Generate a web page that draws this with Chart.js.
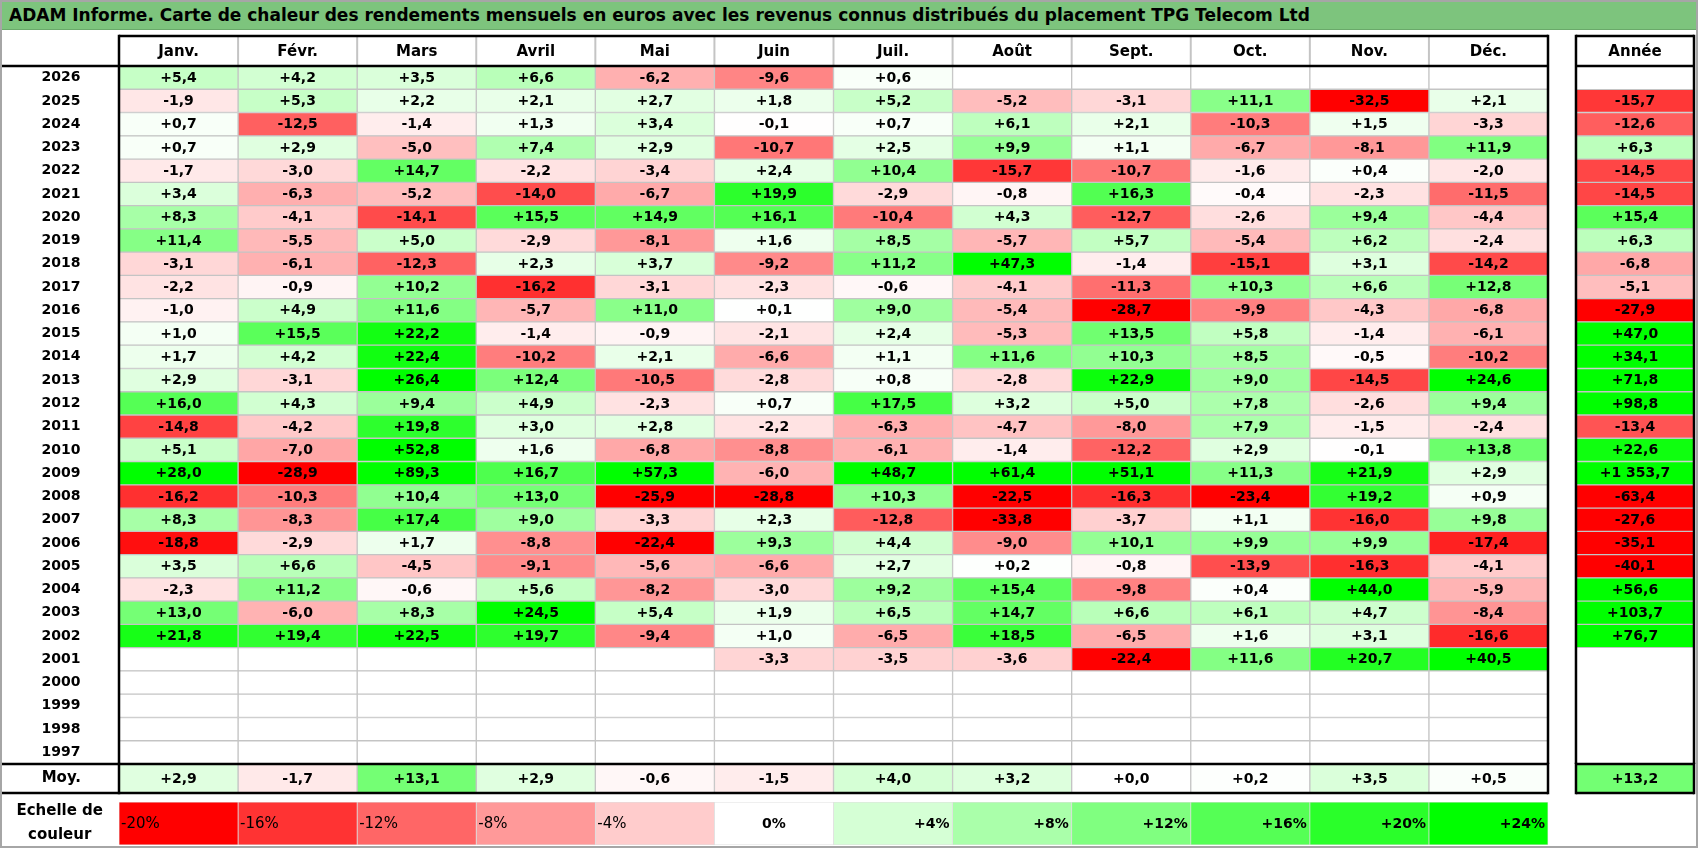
<!DOCTYPE html>
<html lang="fr">
<head>
<meta charset="utf-8">
<title>ADAM Informe - TPG Telecom Ltd</title>
<script src="https://cdn.jsdelivr.net/npm/chart.js@4.4.1/dist/chart.umd.min.js"></script>
<style>
  html, body { margin: 0; padding: 0; background: #fff; }
  #page { position: relative; width: 1698px; height: 848px; overflow: hidden; font-family: "DejaVu Sans", sans-serif; }
  #title { position: absolute; left: 0; top: 0; width: 1698px; height: 30px; box-sizing: border-box;
           background: #7dc47d; border-top: 1px solid #6aa96a; border-bottom: 1px solid #6aa96a;
           font-weight: bold; font-size: 17px; line-height: 29px; padding-left: 9px; color: #000; white-space: nowrap; }
  canvas { position: absolute; left: 0; }
  #frame { position: absolute; left: 0; top: 0; width: 1698px; height: 848px; box-sizing: border-box;
           border: 2px solid #a6a6a6; pointer-events: none; }
</style>
</head>
<body>
<div id="page">
  <div id="title">ADAM Informe. Carte de chaleur des rendements mensuels en euros avec les revenus connus distribués du placement TPG Telecom Ltd</div>
  <canvas id="gridChart" width="1698" height="730" style="top:34px"></canvas>
  <canvas id="avgChart" width="1698" height="33" style="top:762px"></canvas>
  <canvas id="scaleChart" width="1698" height="48" style="top:800px"></canvas>
  <div id="frame"></div>
</div>
<script>
// --- DATA ---
const years = [2026, 2025, 2024, 2023, 2022, 2021, 2020, 2019, 2018, 2017, 2016, 2015, 2014, 2013, 2012,
               2011, 2010, 2009, 2008, 2007, 2006, 2005, 2004, 2003, 2002, 2001, 2000, 1999, 1998, 1997];
const months = ['Janv.', 'Févr.', 'Mars', 'Avril', 'Mai', 'Juin', 'Juil.', 'Août', 'Sept.', 'Oct.', 'Nov.', 'Déc.'];
const yearLabel = 'Année';

const jan = [5.4, -1.9, 0.7, 0.7, -1.7, 3.4, 8.3, 11.4, -3.1, -2.2, -1.0, 1.0, 1.7, 2.9, 16.0,
             -14.8, 5.1, 28.0, -16.2, 8.3, -18.8, 3.5, -2.3, 13.0, 21.8, null, null, null, null, null];
const feb = [4.2, 5.3, -12.5, 2.9, -3.0, -6.3, -4.1, -5.5, -6.1, -0.9, 4.9, 15.5, 4.2, -3.1, 4.3,
             -4.2, -7.0, -28.9, -10.3, -8.3, -2.9, 6.6, 11.2, -6.0, 19.4, null, null, null, null, null];
const mar = [3.5, 2.2, -1.4, -5.0, 14.7, -5.2, -14.1, 5.0, -12.3, 10.2, 11.6, 22.2, 22.4, 26.4, 9.4,
             19.8, 52.8, 89.3, 10.4, 17.4, 1.7, -4.5, -0.6, 8.3, 22.5, null, null, null, null, null];
const apr = [6.6, 2.1, 1.3, 7.4, -2.2, -14.0, 15.5, -2.9, 2.3, -16.2, -5.7, -1.4, -10.2, 12.4, 4.9,
             3.0, 1.6, 16.7, 13.0, 9.0, -8.8, -9.1, 5.6, 24.5, 19.7, null, null, null, null, null];
const may = [-6.2, 2.7, 3.4, 2.9, -3.4, -6.7, 14.9, -8.1, 3.7, -3.1, 11.0, -0.9, 2.1, -10.5, -2.3,
             2.8, -6.8, 57.3, -25.9, -3.3, -22.4, -5.6, -8.2, 5.4, -9.4, null, null, null, null, null];
const jun = [-9.6, 1.8, -0.1, -10.7, 2.4, 19.9, 16.1, 1.6, -9.2, -2.3, 0.1, -2.1, -6.6, -2.8, 0.7,
             -2.2, -8.8, -6.0, -28.8, 2.3, 9.3, -6.6, -3.0, 1.9, 1.0, -3.3, null, null, null, null];
const jul = [0.6, 5.2, 0.7, 2.5, 10.4, -2.9, -10.4, 8.5, 11.2, -0.6, 9.0, 2.4, 1.1, 0.8, 17.5,
             -6.3, -6.1, 48.7, 10.3, -12.8, 4.4, 2.7, 9.2, 6.5, -6.5, -3.5, null, null, null, null];
const aug = [null, -5.2, 6.1, 9.9, -15.7, -0.8, 4.3, -5.7, 47.3, -4.1, -5.4, -5.3, 11.6, -2.8, 3.2,
             -4.7, -1.4, 61.4, -22.5, -33.8, -9.0, 0.2, 15.4, 14.7, 18.5, -3.6, null, null, null, null];
const sep = [null, -3.1, 2.1, 1.1, -10.7, 16.3, -12.7, 5.7, -1.4, -11.3, -28.7, 13.5, 10.3, 22.9, 5.0,
             -8.0, -12.2, 51.1, -16.3, -3.7, 10.1, -0.8, -9.8, 6.6, -6.5, -22.4, null, null, null, null];
const oct = [null, 11.1, -10.3, -6.7, -1.6, -0.4, -2.6, -5.4, -15.1, 10.3, -9.9, 5.8, 8.5, 9.0, 7.8,
             7.9, 2.9, 11.3, -23.4, 1.1, 9.9, -13.9, 0.4, 6.1, 1.6, 11.6, null, null, null, null];
const nov = [null, -32.5, 1.5, -8.1, 0.4, -2.3, 9.4, 6.2, 3.1, 6.6, -4.3, -1.4, -0.5, -14.5, -2.6,
             -1.5, -0.1, 21.9, 19.2, -16.0, 9.9, -16.3, 44.0, 4.7, 3.1, 20.7, null, null, null, null];
const dec = [null, 2.1, -3.3, 11.9, -2.0, -11.5, -4.4, -2.4, -14.2, 12.8, -6.8, -6.1, -10.2, 24.6, 9.4,
             -2.4, 13.8, 2.9, 0.9, 9.8, -17.4, -4.1, -5.9, -8.4, -16.6, 40.5, null, null, null, null];
const yearTotals = [null, -15.7, -12.6, 6.3, -14.5, -14.5, 15.4, 6.3, -6.8, -5.1, -27.9, 47.0, 34.1, 71.8, 98.8,
                    -13.4, 22.6, 1353.7, -63.4, -27.6, -35.1, -40.1, 56.6, 103.7, 76.7, null, null, null, null, null];

const monthAverages = [2.9, -1.7, 13.1, 2.9, -0.6, -1.5, 4.0, 3.2, 0.0, 0.2, 3.5, 0.5];
const totalAverage = 13.2;
const scaleSteps = [-20, -16, -12, -8, -4, 0, 4, 8, 12, 16, 20, 24];

// --- SETTINGS ---
const FONT = '"DejaVu Sans", sans-serif';
const monthColumns = [jan, feb, mar, apr, may, jun, jul, aug, sep, oct, nov, dec];
const ANNEE_START = 12.235;
const ANNEE_END = 13.226;
const X_MAX = 13.226;
const THICK = 2.5;

function heatColor(v) {
    if (v === null) return '#ffffff';
    if (v >= 0) {
        const c = Math.round(255 * (1 - Math.min(v / 24, 1)));
        return `rgb(${c},255,${c})`;
    }
    const c = Math.round(255 * (1 - Math.min(-v / 20, 1)));
    return `rgb(255,${c},${c})`;
}

function formatValue(v) {
    const sign = v < 0 ? '-' : '+';
    const [whole, dec] = Math.abs(v).toFixed(1).split('.');
    return sign + whole.replace(/\B(?=(\d{3})+(?!\d))/g, ' ') + ',' + dec;
}

function columnDataset(values, start, end, keepEmpty) {
    return {
        data: values.map(v => (v === null && !keepEmpty) ? null : [start, end]),
        values: values,
        backgroundColor: values.map(heatColor),
        borderColor: '#c4c4c4',
        borderWidth: 1,
        borderSkipped: false,
        grouped: false,
        categoryPercentage: 1,
        barPercentage: 1
    };
}

// --- PLUGINS ---
const cellLabels = {
    id: 'cellLabels',
    afterDatasetsDraw(chart) {
        const ctx = chart.ctx;
        ctx.save();
        ctx.fillStyle = '#000';
        ctx.textBaseline = 'middle';
        chart.data.datasets.forEach((ds, di) => {
            chart.getDatasetMeta(di).data.forEach((bar, i) => {
                const v = ds.values[i];
                if (v === null || v === undefined) return;
                const { x, base, y } = bar.getProps(['x', 'base', 'y'], true);
                if (ds.scaleLabel) {
                    const text = (v > 0 ? '+' : '') + v + '%';
                    ctx.font = (v < 0 ? 'normal 15px ' : 'bold 14px ') + FONT;
                    if (v < 0) { ctx.textAlign = 'left'; ctx.fillText(text, base + 2, y + 1); }
                    else if (v === 0) { ctx.textAlign = 'center'; ctx.fillText(text, (x + base) / 2, y + 1); }
                    else { ctx.textAlign = 'right'; ctx.fillText(text, x - 3, y + 1); }
                } else {
                    ctx.font = 'bold 14px ' + FONT;
                    ctx.textAlign = 'center';
                    ctx.fillText(formatValue(v), (x + base) / 2, y + 0.5);
                }
            });
        });
        ctx.restore();
    }
};

const tableFrame = {
    id: 'tableFrame',
    afterDraw(chart, args, opts) {
        if (!opts.enabled) return;
        const { ctx, chartArea, scales: { x } } = chart;
        const left = x.getPixelForValue(0);
        const right = x.getPixelForValue(12);
        const aL = x.getPixelForValue(ANNEE_START);
        const aR = x.getPixelForValue(ANNEE_END);
        const top = opts.header ? x.top + 2 : chartArea.top;
        const bottom = chartArea.bottom;

        ctx.save();
        if (opts.header) {
            ctx.strokeStyle = '#c4c4c4';
            ctx.lineWidth = 2;
            for (let m = 1; m < 12; m++) {
                const px = x.getPixelForValue(m);
                ctx.beginPath(); ctx.moveTo(px, top); ctx.lineTo(px, chartArea.top); ctx.stroke();
            }
        }
        ctx.strokeStyle = '#000';
        ctx.lineWidth = THICK;
        const line = (x1, y1, x2, y2) => { ctx.beginPath(); ctx.moveTo(x1, y1); ctx.lineTo(x2, y2); ctx.stroke(); };
        if (opts.header) {
            line(left, top, right, top);
            line(aL, top, aR, top);
        }
        line(0, chartArea.top, right, chartArea.top);
        line(aL, chartArea.top, aR, chartArea.top);
        if (!opts.header) {
            line(0, bottom, right, bottom);
            line(aL, bottom, aR, bottom);
        }
        [left, right, aL, aR].forEach(px => line(px, top - THICK / 2, px, bottom + THICK / 2));
        ctx.restore();
    }
};

// the row labels sit centred in the first column; the tick padding alone places them,
// so the padding the axis would otherwise add above and below the plot is removed
function baseOptions(yPadding, yFont, extra) {
    return Object.assign({
        indexAxis: 'y',
        responsive: false,
        maintainAspectRatio: false,
        animation: false,
        events: [],
        plugins: { legend: { display: false }, tooltip: { enabled: false }, tableFrame: { enabled: false } },
        scales: {
            x: { type: 'linear', display: false, min: 0, max: X_MAX, grid: { display: false, drawTicks: false } },
            y: {
                type: 'category',
                grid: { display: false, drawTicks: false },
                border: { display: false },
                afterFit: s => { s.width = 119; s.paddingTop = 0; s.paddingBottom = 0; },
                ticks: { crossAlign: 'center', padding: yPadding, color: '#000', font: yFont }
            }
        }
    }, extra);
}

// --- MAIN GRID ---
const headerLabels = months.concat([yearLabel]);
const headerTicks = months.map((_, i) => i + 0.5).concat([(ANNEE_START + ANNEE_END) / 2]);

const gridOptions = baseOptions(38.5, { family: FONT, size: 14, weight: 'bold' }, {
    layout: { padding: { right: 4 } }
});
gridOptions.plugins.tableFrame = { enabled: true, header: true };
gridOptions.scales.x = {
    type: 'linear', position: 'top', min: 0, max: X_MAX,
    grid: { display: false, drawTicks: false },
    border: { display: false },
    afterBuildTicks: s => { s.ticks = headerTicks.map(value => ({ value })); },
    afterFit: s => { s.height = 32; s.paddingLeft = 0; s.paddingRight = 0; },
    ticks: {
        autoSkip: false, maxRotation: 0, padding: 5, color: '#000',
        font: { family: FONT, size: 15, weight: 'bold' },
        callback: (value, index) => headerLabels[index]
    }
};

new Chart(document.getElementById('gridChart'), {
    type: 'bar',
    data: {
        labels: years.map(String),
        datasets: monthColumns.map((col, m) => columnDataset(col, m, m + 1, true))
            .concat([columnDataset(yearTotals, ANNEE_START, ANNEE_END, false)])
    },
    options: gridOptions,
    plugins: [cellLabels, tableFrame]
});

// --- AVERAGE ROW ---
const avgOptions = baseOptions(38, { family: FONT, size: 15, weight: 'bold' }, {
    layout: { padding: { top: 2, bottom: 2, right: 4 } }
});
avgOptions.plugins.tableFrame = { enabled: true, header: false };

new Chart(document.getElementById('avgChart'), {
    type: 'bar',
    data: {
        labels: ['Moy.'],
        datasets: monthAverages.map((v, m) => columnDataset([v], m, m + 1, true))
            .concat([columnDataset([totalAverage], ANNEE_START, ANNEE_END, false)])
    },
    options: avgOptions,
    plugins: [cellLabels, tableFrame]
});

// --- COLOUR SCALE ---
const scaleOptions = baseOptions(16, { family: FONT, size: 15, weight: 'bold', lineHeight: 1.6 }, {
    layout: { padding: { top: 2, bottom: 3, right: 4 } }
});

new Chart(document.getElementById('scaleChart'), {
    type: 'bar',
    data: {
        labels: [['Echelle de', 'couleur']],
        datasets: scaleSteps.map((s, i) => Object.assign(columnDataset([s], i, i + 1, true), {
            borderColor: '#dedede', borderWidth: 0.75, scaleLabel: true
        }))
    },
    options: scaleOptions,
    plugins: [cellLabels]
});
</script>
</body>
</html>
